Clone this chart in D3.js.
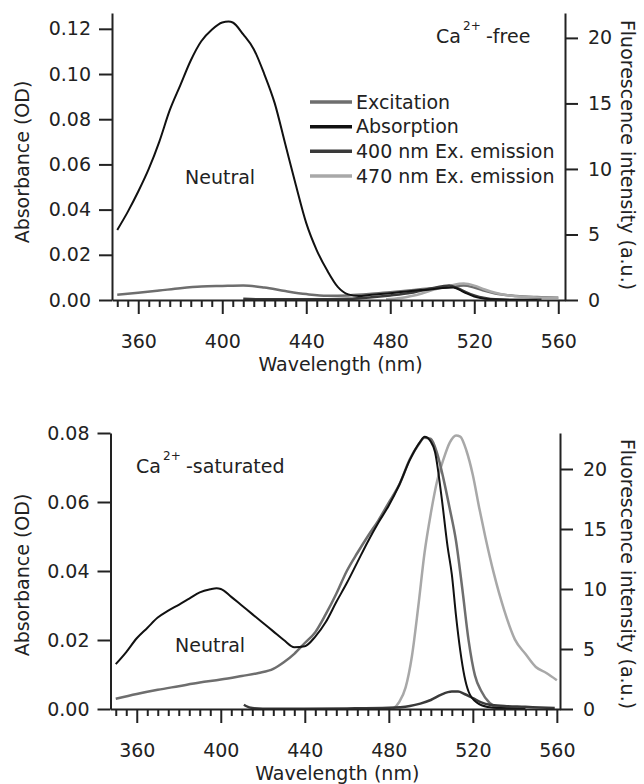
<!DOCTYPE html>
<html>
<head>
<meta charset="utf-8">
<script src="https://cdn.jsdelivr.net/npm/d3@7"></script>
<style>
  body { margin: 0; background: #fff; }
  svg text { font-family: 'DejaVu Sans', sans-serif; fill: #222; }
</style>
</head>
<body>
<div class="chart"></div>
<script>
// tick labels
const xTicks = [360, 400, 440, 480, 520, 560];
const odTicksFree = [0, 0.02, 0.04, 0.06, 0.08, 0.1, 0.12];
const odTicksSat = [0, 0.02, 0.04, 0.06, 0.08];
const fluoTicks = [0, 5, 10, 15, 20];
const seriesNames = ['Excitation', 'Absorption', '400 nm Ex. emission', '470 nm Ex. emission'];

// Ca2+-free : absorption (OD)
const freeAbsWl = [350, 355, 360, 365, 370, 375, 380, 385, 390, 395, 400, 403, 405, 410, 415, 420, 425, 430, 435, 440, 445, 450, 455, 460, 465, 470, 480, 490, 500, 505, 510, 515, 520, 525, 530, 540, 550];
const freeAbsOd = [0.031, 0.039, 0.048, 0.058, 0.07, 0.084, 0.095, 0.106, 0.1145, 0.1196, 0.1228, 0.1232, 0.1228, 0.1175, 0.111, 0.1, 0.087, 0.069, 0.051, 0.034, 0.022, 0.013, 0.0058, 0.0025, 0.0018, 0.0022, 0.003, 0.004, 0.0048, 0.0053, 0.0055, 0.0035, 0.0015, 0.0005, 0.0002, 0, 0];
// Ca2+-free : fluorescence (a.u.)
const freeExWl = [350, 360, 370, 380, 390, 400, 410, 420, 430, 440, 450, 460, 470, 480, 490, 500, 505, 510, 515, 520, 525, 530, 540, 550, 560];
const freeExF = [0.4, 0.55, 0.72, 0.9, 1.03, 1.07, 1.1, 0.95, 0.68, 0.45, 0.32, 0.35, 0.45, 0.6, 0.75, 0.9, 0.95, 1.05, 1.1, 0.95, 0.7, 0.5, 0.3, 0.22, 0.18];
const free400Wl = [410, 420, 440, 460, 470, 480, 490, 500, 505, 508, 512, 516, 520, 525, 530, 540, 552];
const free400F = [0.1, 0.05, 0.05, 0.1, 0.2, 0.35, 0.55, 0.9, 1.05, 1.1, 0.9, 0.6, 0.35, 0.15, 0.05, 0.02, 0.02];
const free470Wl = [478, 485, 490, 495, 500, 505, 510, 515, 520, 525, 530, 535, 540, 550, 560];
const free470F = [0.05, 0.15, 0.3, 0.5, 0.75, 0.95, 1.15, 1.25, 1.1, 0.8, 0.55, 0.38, 0.28, 0.2, 0.17];

// Ca2+-saturated : absorption (OD)
const satAbsWl = [350, 355, 360, 365, 370, 375, 380, 385, 390, 395, 398, 400, 405, 410, 415, 420, 425, 430, 435, 440, 445, 450, 455, 460, 465, 470, 475, 480, 485, 490, 495, 497, 500, 502, 505, 508, 510, 512, 514, 516, 518, 522, 527, 535, 545];
const satAbsOd = [0.013, 0.0165, 0.0205, 0.0235, 0.0265, 0.0285, 0.0302, 0.032, 0.0338, 0.0347, 0.035, 0.0348, 0.0325, 0.03, 0.0275, 0.025, 0.0225, 0.02, 0.0179, 0.0182, 0.021, 0.0252, 0.031, 0.0365, 0.0425, 0.0485, 0.054, 0.059, 0.065, 0.0722, 0.0775, 0.0789, 0.0775, 0.0745, 0.062, 0.047, 0.039, 0.027, 0.017, 0.0095, 0.005, 0.0018, 0.0006, 0.0002, 0];
// Ca2+-saturated : fluorescence (a.u.)
const satExWl = [350, 360, 370, 380, 390, 400, 410, 418, 425, 430, 435, 440, 445, 450, 455, 460, 465, 470, 475, 480, 485, 490, 494, 497, 500, 503, 506, 509, 512, 515, 518, 521, 524, 528, 532, 545];
const satExF = [0.85, 1.25, 1.6, 1.9, 2.2, 2.45, 2.75, 3.0, 3.35, 3.9, 4.6, 5.5, 6.4, 7.9, 9.6, 11.5, 13.0, 14.4, 15.7, 17.2, 18.7, 20.8, 22.0, 22.6, 22.5, 21.3, 19.2, 16.7, 14.0, 10.0, 5.7, 2.8, 1.5, 0.5, 0.15, 0.05];
const sat400Wl = [411, 412, 415, 420, 440, 460, 480, 490, 495, 500, 505, 510, 513, 516, 520, 524, 528, 535, 545, 552, 559];
const sat400F = [0.35, 0.25, 0.08, 0.03, 0.03, 0.05, 0.1, 0.25, 0.45, 0.75, 1.2, 1.45, 1.45, 1.25, 0.9, 0.55, 0.35, 0.25, 0.18, 0.12, 0.08];
const sat470Wl = [482, 485, 488, 491, 494, 497, 500, 503, 506, 509, 512, 514, 517, 520, 523, 526, 530, 535, 540, 545, 550, 555, 560];
const sat470F = [0, 0.6, 1.8, 4.4, 8.5, 13.0, 16.3, 19.0, 20.8, 22.2, 22.8, 22.7, 21.5, 19.5, 16.8, 14.3, 11.3, 8.2, 5.8, 4.6, 3.5, 3.0, 2.4];

const colors = {
  ex: '#6e6e6e',
  abs: '#111111',
  em400: '#3a3a3a',
  em470: '#a8a8a8'
};

const w = 644;
const h = 784;

const svg = d3
  .select('.chart')
  .append('svg')
  .attr('width', w)
  .attr('height', h);

const zip = (a, b) => a.map((v, i) => [v, b[i]]);

function drawPanel(p) {
  // x&y scales
  const xScale = d3.scaleLinear().domain(p.xDomain).range([p.left, p.right]);
  const yOd = d3.scaleLinear().domain(p.odDomain).range([p.bottom, p.top]);
  const yFl = d3.scaleLinear().domain(p.flDomain).range([p.bottom, p.top]);

  const g = svg.append('g');

  const lineOd = d3
    .line()
    .x((d) => xScale(d[0]))
    .y((d) => yOd(d[1]))
    .curve(d3.curveMonotoneX);
  const lineFl = d3
    .line()
    .x((d) => xScale(d[0]))
    .y((d) => yFl(d[1]))
    .curve(d3.curveMonotoneX);

  // curves
  p.series.forEach((s) => {
    g.append('path')
      .datum(s.data)
      .attr('fill', 'none')
      .attr('stroke', s.color)
      .attr('stroke-width', s.width)
      .attr('stroke-linejoin', 'round')
      .attr('d', s.axis === 'od' ? lineOd : lineFl);
  });

  // X-axis, minor ticks every 5 nm
  const minor = d3.range(350, p.xDomain[1], 5).filter((v) => v % 40 !== 0);
  const xMinor = g
    .append('g')
    .attr('transform', `translate(0, ${p.bottom})`)
    .call(d3.axisBottom(xScale).tickValues(minor).tickSize(7).tickFormat(''));
  xMinor.select('.domain').remove();

  const xAxis = g
    .append('g')
    .attr('transform', `translate(0, ${p.bottom})`)
    .call(
      d3
        .axisBottom(xScale)
        .tickValues(xTicks)
        .tickSize(14)
        .tickSizeOuter(0)
        .tickPadding(21)
    );

  // Y-axis left
  const yAxisL = g
    .append('g')
    .attr('transform', `translate(${p.left}, 0)`)
    .call(
      d3
        .axisLeft(yOd)
        .tickValues(p.odTicks)
        .tickFormat(d3.format('.2f'))
        .tickSize(13)
        .tickSizeOuter(0)
        .tickPadding(8)
    );

  // Y-axis right
  const yAxisR = g
    .append('g')
    .attr('transform', `translate(${p.right}, 0)`)
    .call(
      d3
        .axisRight(yFl)
        .tickValues(fluoTicks)
        .tickSize(13)
        .tickSizeOuter(0)
        .tickPadding(10)
    );

  [xMinor, xAxis, yAxisL, yAxisR].forEach((a) => {
    a.selectAll('line').attr('stroke', '#222').attr('stroke-width', 2);
    a.selectAll('.domain').attr('stroke', '#222').attr('stroke-width', 2);
    a.selectAll('text')
      .style('font-size', '19px')
      .attr('fill', '#222');
  });

  // axis titles
  g.append('text')
    .attr('x', (p.left + p.right) / 2 + 2)
    .attr('y', p.bottom + 71)
    .attr('text-anchor', 'middle')
    .style('font-size', '19px')
    .text('Wavelength (nm)');

  g.append('text')
    .attr('transform', `translate(22, ${p.leftTitleY}) rotate(-90)`)
    .attr('text-anchor', 'middle')
    .attr('dy', '0.35em')
    .style('font-size', '19px')
    .text('Absorbance (OD)');

  g.append('text')
    .attr('transform', `translate(628, ${p.rightTitleY}) rotate(90)`)
    .attr('text-anchor', 'middle')
    .attr('dy', '0.35em')
    .style('font-size', '19px')
    .text('Fluorescence intensity (a.u.)');

  // Ca2+ label
  const ca = p.caLabel;
  g.append('text').attr('x', ca.x).attr('y', ca.y).style('font-size', '19px').text('Ca');
  g.append('text').attr('x', ca.x + 27).attr('y', ca.y - 13).style('font-size', '12px').text('2+');
  g.append('text').attr('x', ca.x + 50).attr('y', ca.y).style('font-size', '19px').text(ca.text);

  g.append('text')
    .attr('x', p.neutral[0])
    .attr('y', p.neutral[1])
    .style('font-size', '19px')
    .text('Neutral');
}

drawPanel({
  left: 112,
  right: 565,
  top: 13,
  bottom: 300,
  xDomain: [347.5, 563.2],
  odDomain: [0, 0.127],
  flDomain: [0, 21.9],
  odTicks: odTicksFree,
  leftTitleY: 162,
  rightTitleY: 155,
  caLabel: { x: 436, y: 43, text: '-free' },
  neutral: [185, 184],
  series: [
    { axis: 'fl', data: zip(freeExWl, freeExF), color: colors.ex, width: 2.5 },
    { axis: 'fl', data: zip(free470Wl, free470F), color: colors.em470, width: 2.5 },
    { axis: 'fl', data: zip(free400Wl, free400F), color: colors.em400, width: 2.5 },
    { axis: 'od', data: zip(freeAbsWl, freeAbsOd), color: colors.abs, width: 2 }
  ]
});

drawPanel({
  left: 110.5,
  right: 560,
  top: 433,
  bottom: 709,
  xDomain: [347.5, 561.5],
  odDomain: [0, 0.08],
  flDomain: [0, 23],
  odTicks: odTicksSat,
  leftTitleY: 575,
  rightTitleY: 574,
  caLabel: { x: 136, y: 473, text: '-saturated' },
  neutral: [175, 652],
  series: [
    { axis: 'fl', data: zip(sat470Wl, sat470F), color: colors.em470, width: 2.5 },
    { axis: 'fl', data: zip(satExWl, satExF), color: colors.ex, width: 2.5 },
    { axis: 'fl', data: zip(sat400Wl, sat400F), color: colors.em400, width: 2.5 },
    { axis: 'od', data: zip(satAbsWl, satAbsOd), color: colors.abs, width: 2 }
  ]
});

// legend (top panel)
const legendColors = [colors.ex, colors.abs, colors.em400, colors.em470];
const legendY = d3.scalePoint().domain(seriesNames).range([102, 176]);
const legend = svg.append('g');
seriesNames.forEach((name, i) => {
  legend
    .append('line')
    .attr('x1', 310)
    .attr('x2', 352)
    .attr('y1', legendY(name))
    .attr('y2', legendY(name))
    .attr('stroke', legendColors[i])
    .attr('stroke-width', 3.5);
  legend
    .append('text')
    .attr('x', 356)
    .attr('y', legendY(name))
    .attr('dy', '0.35em')
    .style('font-size', '19px')
    .text(name);
});
</script>
</body>
</html>
